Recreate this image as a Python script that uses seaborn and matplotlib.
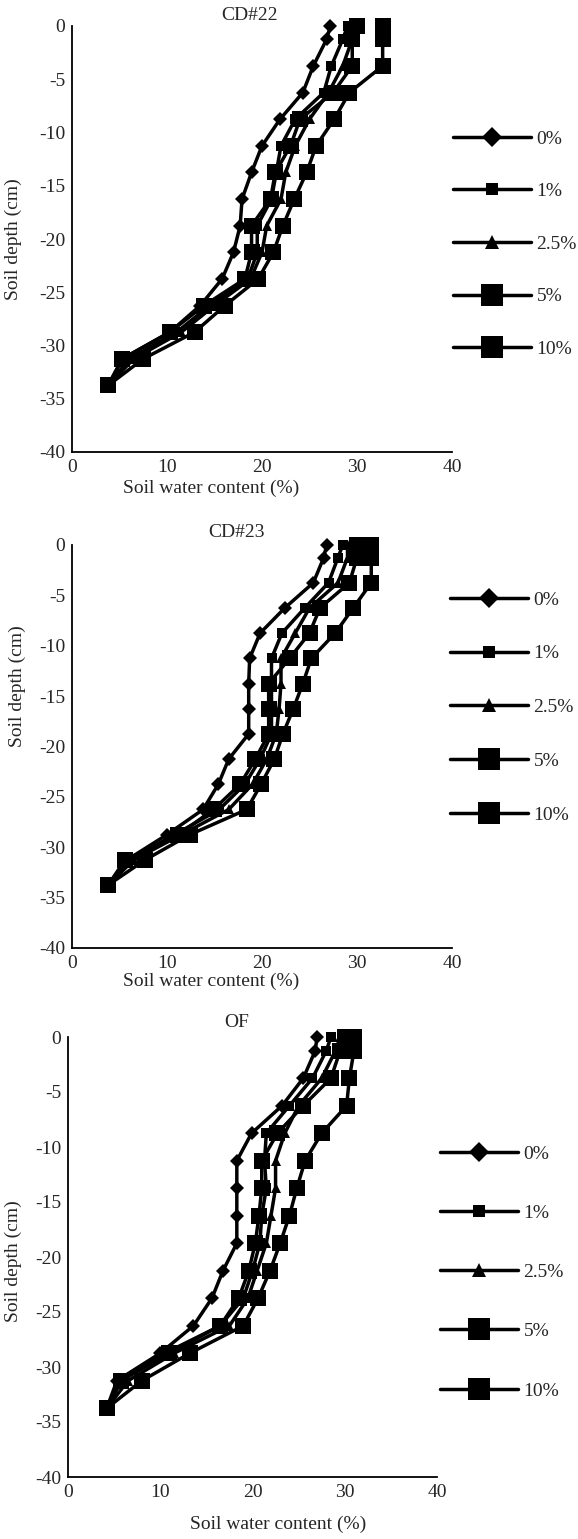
import numpy as np
import pandas as pd
import matplotlib
matplotlib.use("Agg")
import matplotlib.pyplot as plt
import seaborn as sns

sns.set_theme(style="white")
plt.rcParams['font.family'] = ['Liberation Serif', 'DejaVu Serif']
plt.rcParams['axes.unicode_minus'] = False

# ---------------- data ----------------
depths = [0, -1.25, -3.75, -6.25, -8.75, -11.25, -13.75, -16.25, -18.75,
          -21.25, -23.75, -26.25, -28.75, -31.25, -33.75]
treatments = ["0%", "1%", "2.5%", "5%", "10%"]

cd22_0 = [27.2, 26.8, 25.4, 24.3, 21.9, 20.0, 18.9, 17.9, 17.7, 17.0, 15.8, 13.5, 10.3, 5.3, 3.8]
cd22_1 = [29.0, 28.5, 27.3, 26.5, 23.5, 22.0, 21.5, 21.0, 19.5, 19.5, 18.5, 14.5, 11.0, 6.0, 3.8]
cd22_25 = [30.0, 29.5, 28.5, 27.0, 25.0, 23.5, 22.5, 22.0, 20.5, 20.0, 18.8, 15.0, 11.5, 6.5, 3.8]
cd22_5 = [30.0, 29.5, 29.5, 27.5, 24.0, 23.0, 21.4, 20.9, 18.9, 18.9, 18.2, 13.9, 10.3, 5.3, 3.8]
cd22_10 = [32.7, 32.7, 32.7, 29.2, 27.6, 25.7, 24.7, 23.4, 22.2, 21.2, 19.6, 16.1, 12.9, 7.5, 3.8]

cd23_0 = [26.8, 26.5, 25.4, 22.4, 19.8, 18.7, 18.6, 18.6, 18.6, 16.5, 15.4, 13.8, 10.0, 5.8, 3.8]
cd23_1 = [28.5, 28.0, 27.0, 24.5, 22.1, 21.0, 21.0, 21.0, 21.0, 19.8, 18.2, 15.5, 10.8, 6.0, 3.8]
cd23_25 = [29.0, 29.0, 28.0, 25.0, 23.5, 22.0, 22.0, 21.8, 21.5, 20.5, 19.0, 16.5, 11.5, 6.5, 3.8]
cd23_5 = [30.0, 30.0, 29.2, 26.1, 25.0, 22.9, 20.7, 20.7, 20.7, 19.3, 17.7, 14.9, 11.2, 5.6, 3.8]
cd23_10 = [31.5, 31.5, 31.5, 29.6, 27.7, 25.2, 24.3, 23.3, 22.2, 21.3, 19.9, 18.4, 12.4, 7.7, 3.8]

of_0 = [27.0, 26.8, 25.5, 23.2, 19.9, 18.3, 18.3, 18.3, 18.3, 16.8, 15.6, 13.6, 10.0, 5.3, 4.2]
of_1 = [28.5, 28.0, 26.5, 24.0, 21.5, 21.3, 21.5, 21.0, 20.8, 20.0, 19.0, 16.5, 10.5, 5.8, 4.2]
of_25 = [29.5, 29.0, 27.5, 25.0, 23.5, 22.5, 22.5, 22.0, 21.5, 20.5, 19.5, 17.5, 11.5, 6.5, 4.2]
of_5 = [30.0, 29.5, 28.5, 25.5, 22.7, 21.0, 21.0, 20.7, 20.3, 19.6, 18.5, 16.5, 11.0, 5.7, 4.2]
of_10 = [31.0, 31.0, 30.5, 30.2, 27.5, 25.7, 24.8, 24.0, 23.0, 21.9, 20.6, 19.0, 13.2, 8.0, 4.2]

panel_titles = ["CD#22", "CD#23", "OF"]
panel_data = [
    [cd22_0, cd22_1, cd22_25, cd22_5, cd22_10],
    [cd23_0, cd23_1, cd23_25, cd23_5, cd23_10],
    [of_0, of_1, of_25, of_5, of_10],
]
xticks = [0, 10, 20, 30, 40]
yticks = [0, -5, -10, -15, -20, -25, -30, -35, -40]

# ---------------- style ----------------
markers = ["D", "s", "^", "s", "s"]
msizes = [7.5, 6.5, 7.5, 11, 11]

W, H = 578, 1539
fig = plt.figure(figsize=(W / 100, H / 100), dpi=100)

# axes boxes in pixels: left, top, right, bottom
boxes = [(72, 26, 452, 452), (72, 545, 452, 948), (68, 1037, 437, 1477)]
title_pos = [(0.468, 1.025), (0.434, 1.032), (0.458, 1.034)]
ylab_pos = [(-0.132, 0.5), (-0.121, 0.65), (-0.125, 0.49)]
xlab_pos = [(0.366, -0.065), (0.366, -0.062), (0.57, -0.088)]
leg_x = [453, 450, 440]
leg_y0 = [141, 602, 1156]
leg_sp = [1.8, 1.86, 2.14]

FS = 14
for i in range(3):
    l, t, r, b = boxes[i]
    ax = fig.add_axes([l / W, 1 - b / H, (r - l) / W, (b - t) / H])
    rows = []
    for name, vals in zip(treatments, panel_data[i]):
        for d, v in zip(depths, vals):
            rows.append({"swc": v, "depth": d, "treat": name})
    df = pd.DataFrame(rows)
    handles = []
    for k, name in enumerate(treatments):
        sub = df[df["treat"] == name]
        sns.lineplot(data=sub, x="swc", y="depth", ax=ax, color="black",
                     marker=markers[k], markersize=msizes[k], markeredgewidth=0,
                     sort=False, estimator=None, lw=2.5, clip_on=False,
                     legend=False)
        handles.append(ax.get_lines()[-1])
    ax.set_xlim(0, 40)
    ax.set_ylim(-40, 0)
    ax.set_xticks(xticks)
    ax.set_yticks(yticks)
    ax.tick_params(axis="both", labelsize=FS, length=4, width=1.2,
                   direction="out", pad=1, color="black")
    for s in ["top", "right"]:
        ax.spines[s].set_visible(False)
    for s in ["left", "bottom"]:
        ax.spines[s].set_color("black")
        ax.spines[s].set_linewidth(1.3)
    ax.set_xlabel("Soil water content (%)", fontsize=FS)
    ax.set_ylabel("Soil depth (cm)", fontsize=FS)
    ax.xaxis.set_label_coords(*xlab_pos[i])
    ax.yaxis.set_label_coords(*ylab_pos[i])
    ax.text(title_pos[i][0], title_pos[i][1], panel_titles[i],
            transform=ax.transAxes, ha="center", va="center", fontsize=FS)
    leg = ax.legend(handles, treatments, loc="upper left",
                    bbox_to_anchor=(leg_x[i] / W, 1 - (leg_y0[i] - 11) / H),
                    bbox_transform=fig.transFigure, frameon=False,
                    fontsize=FS, handlelength=4.0, handletextpad=0.3,
                    labelspacing=leg_sp[i], borderpad=0, borderaxespad=0,
                    markerscale=1.4, numpoints=1)

fig.savefig("out.png", dpi=100, facecolor="white")
